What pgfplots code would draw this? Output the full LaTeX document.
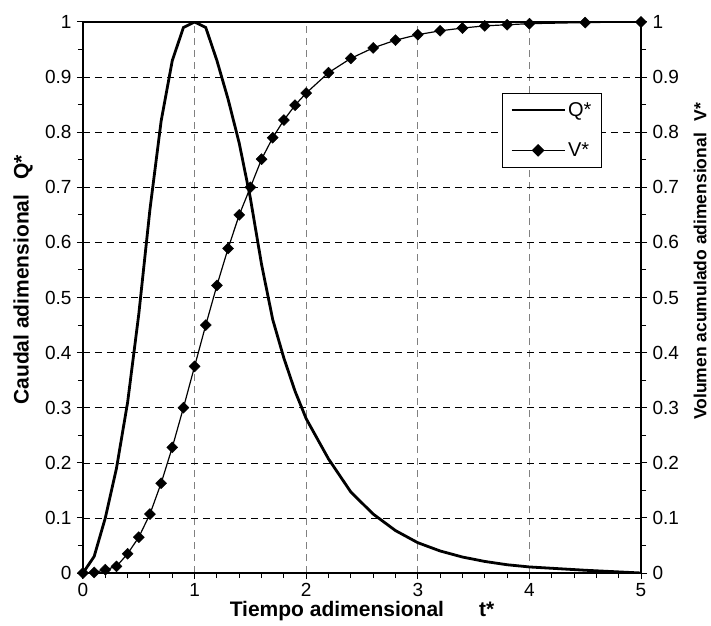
\documentclass[border=0pt]{standalone}
\usepackage{pgfplots}
\pgfplotsset{compat=1.18}
\usepackage{fontspec}
\setmainfont{Liberation Sans}
\pgfplotstableread{
t q v
0.0 0.000 0.000
0.1 0.030 0.001
0.2 0.100 0.006
0.3 0.190 0.012
0.4 0.310 0.035
0.5 0.470 0.065
0.6 0.660 0.107
0.7 0.820 0.163
0.8 0.930 0.228
0.9 0.990 0.300
1.0 1.000 0.375
1.1 0.990 0.450
1.2 0.930 0.522
1.3 0.860 0.589
1.4 0.780 0.650
1.5 0.680 0.700
1.6 0.560 0.751
1.7 0.460 0.790
1.8 0.390 0.822
1.9 0.330 0.849
2.0 0.280 0.871
2.2 0.207 0.908
2.4 0.147 0.934
2.6 0.107 0.953
2.8 0.077 0.967
3.0 0.055 0.977
3.2 0.040 0.984
3.4 0.029 0.989
3.6 0.021 0.993
3.8 0.015 0.995
4.0 0.011 0.997
4.5 0.005 0.999
5.0 0.000 1.000
}\scs
\begin{document}
\begin{tikzpicture}
\useasboundingbox (-83pt,-52pt) rectangle (628pt,573pt);
\pgfplotsset{
  common/.style={
    at={(0pt,0pt)}, anchor=south west,
    scale only axis, width=558pt, height=551pt,
    xmin=0, xmax=5, ymin=0, ymax=1,
    ytick={0,0.1,...,1.01},
    minor y tick num=1,
    tick align=outside,
    major tick length=6pt, minor tick length=5pt,
    every tick/.style={black, line width=1pt},
    /pgf/number format/assume math mode=true,
    /pgf/number format/fixed,
    tick label style={font=\fontsize{19}{22}\selectfont},
  }
}
\begin{axis}[common,
  axis line style={line width=1.6pt},
  xtick={0,1,2,3,4,5},
  minor x tick num=4,
  ytick pos=left, xtick pos=bottom,
  xmajorgrids, ymajorgrids,
  major x grid style={gray, line width=0.8pt, dash pattern=on 7pt off 5pt},
  major y grid style={black, line width=0.6pt, dash pattern=on 7pt off 5pt},
  xticklabel style={yshift=-1pt},
  yticklabel style={xshift=-2pt},
  xlabel={Tiempo adimensional\hspace{35pt}t*},
  ylabel={Caudal adimensional\hspace{15pt}Q*},
  xlabel style={at={([yshift=-38pt]axis description cs:0.5,0)}, anchor=center, font=\bfseries\fontsize{21}{24}\selectfont},
  ylabel style={at={([xshift=-60pt]axis description cs:0,0.532)}, anchor=center, font=\bfseries\fontsize{21}{24}\selectfont},
  legend style={at={(0.751,0.871)}, anchor=north west, draw=black,
    font=\fontsize{20}{23}\selectfont, legend cell align=left,
    inner xsep=8pt, inner ysep=7pt, row sep=21pt},
]
\addplot[black, line width=2.8pt, no markers,
  legend image code/.code={\draw[black, line width=2.8pt] (0pt,0pt) -- (53pt,0pt);}] table[x=t,y=q] {\scs};
\addlegendentry{Q*}
\addplot[black, line width=1.2pt, mark=square*, mark size=3.9pt, every mark/.append style={rotate=45, solid, line width=0.4pt},
  legend image code/.code={\draw[black, line width=1.2pt] (0pt,0pt) -- (53pt,0pt);
    \fill[black, rotate around={45:(26.5pt,0pt)}] (22.6pt,-3.9pt) rectangle (30.4pt,3.9pt);}] table[x=t,y=v] {\scs};
\addlegendentry{V*}
\end{axis}
\begin{axis}[common,
  axis x line=none,
  axis y line*=right,
  axis line style={line width=1.6pt},
  yticklabel style={xshift=2pt},
  ylabel={Volumen acumulado adimensional\hspace{12pt}V*},
  ylabel style={at={([xshift=59pt]axis description cs:1,0.566)}, anchor=center, font=\bfseries\fontsize{17.5}{20}\selectfont},
]
\end{axis}
\end{tikzpicture}
\end{document}
